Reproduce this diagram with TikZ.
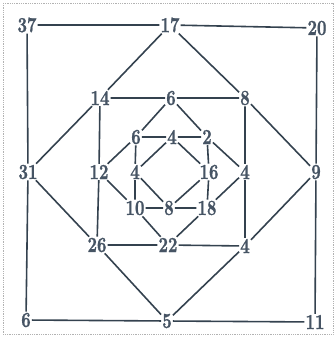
\documentclass[tikz,border=0pt]{standalone}
\usepackage{fontspec}
\newfontfamily\numfont{lmroman10-bold.otf}[FakeBold=1.2]
\definecolor{ink}{HTML}{34424F}
\definecolor{txt}{HTML}{465464}
\newcommand{\lbl}[1]{\scalebox{1}[1.3]{#1}}
\tikzset{
  num/.style={inner sep=1pt, text=txt, font=\fontsize{16.5}{16.5}\numfont},
  ln/.style={draw=ink, line width=1.6pt}
}
\begin{document}
\begin{tikzpicture}[x=1pt,y=-1pt]
\useasboundingbox (0,0) rectangle (336,337);
\draw[gray!60, densely dotted, line width=0.8pt] (3,3) rectangle (333,334);
% outer
\node[num] (o37) at (27,25) {\lbl{37}};
\node[num] (o17) at (170,25) {\lbl{17}};
\node[num] (o20) at (317,28) {\lbl{20}};
\node[num] (o31) at (28,172) {\lbl{31}};
\node[num] (o9)  at (316,172) {\lbl{9}};
\node[num] (o6)  at (26,320) {\lbl{6}};
\node[num] (o5)  at (167,321) {\lbl{5}};
\node[num] (o11) at (315,322) {\lbl{11}};
% middle
\node[num] (m14) at (100,98) {\lbl{14}};
\node[num] (m6)  at (171,98) {\lbl{6}};
\node[num] (m8)  at (245,98) {\lbl{8}};
\node[num] (m12) at (99,172) {\lbl{12}};
\node[num] (m4r) at (245,172) {\lbl{4}};
\node[num] (m26) at (97,245) {\lbl{26}};
\node[num] (m22) at (168,245) {\lbl{22}};
\node[num] (m4b) at (245,246) {\lbl{4}};
% inner
\node[num] (i6)  at (136,137) {\lbl{6}};
\node[num] (i4t) at (172,137) {\lbl{4}};
\node[num] (i2)  at (207,137) {\lbl{2}};
\node[num] (i4l) at (135,172) {\lbl{4}};
\node[num] (i16) at (209,172) {\lbl{16}};
\node[num] (i10) at (135,208) {\lbl{10}};
\node[num] (i8)  at (169,208) {\lbl{8}};
\node[num] (i18) at (207,208) {\lbl{18}};
% edges
\path[ln]
 (o37)--(o17) (o17)--(o20) (o37)--(o31) (o31)--(o6) (o20)--(o9) (o9)--(o11) (o6)--(o5) (o5)--(o11)
 (o17)--(m14) (o17)--(m8) (o31)--(m14) (o31)--(m26) (o9)--(m8) (o9)--(m4b) (o5)--(m26) (o5)--(m4b)
 (m14)--(m6) (m6)--(m8) (m14)--(m12) (m12)--(m26) (m8)--(m4r) (m4r)--(m4b) (m26)--(m22) (m22)--(m4b)
 (m6)--(i6) (m6)--(i2) (m12)--(i6) (m12)--(i10) (m4r)--(i2) (m4r)--(i18) (m22)--(i10) (m22)--(i18)
 (i6)--(i4t) (i4t)--(i2) (i6)--(i4l) (i4l)--(i10) (i2)--(i16) (i16)--(i18) (i10)--(i8) (i8)--(i18)
 (i4t)--(i4l) (i4t)--(i16) (i4l)--(i8) (i16)--(i8);
\end{tikzpicture}
\end{document}
